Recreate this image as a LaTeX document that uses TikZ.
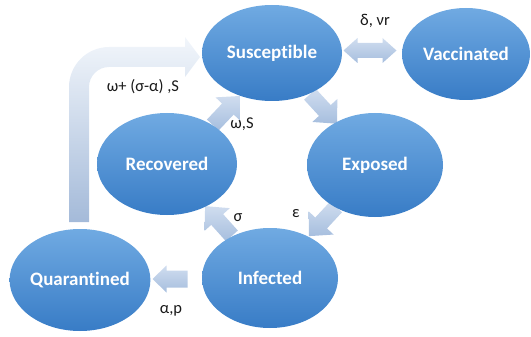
\documentclass[tikz,border=0pt]{standalone}
\usepackage{fontspec}
\setmainfont{Carlito}[Ligatures=NoCommon]
\usetikzlibrary{shapes.geometric,backgrounds,calc}
\definecolor{elTop}{RGB}{112,170,226}
\definecolor{elBot}{RGB}{56,124,198}
\definecolor{arTop}{RGB}{208,221,239}
\definecolor{arBot}{RGB}{166,190,222}
\definecolor{bigTop}{RGB}{242,246,251}
\definecolor{bigBot}{RGB}{164,186,217}
\definecolor{lbltxt}{RGB}{25,25,25}
\newcommand{\blockarr}[6]{%
  \begin{scope}[shift={#1},rotate=#2]
    \shade[smallarrow] ({-#3/2},{-#4}) -- ({#3/2-#6},{-#4}) -- ({#3/2-#6},{-#5}) -- ({#3/2},0) -- ({#3/2-#6},{#5}) -- ({#3/2-#6},{#4}) -- ({-#3/2},{#4}) -- cycle;
  \end{scope}}
\begin{document}
\begin{tikzpicture}[x=1pt,y=-1pt,
  state/.style={ellipse, inner sep=0pt, top color=elTop, bottom color=elBot, draw=none, text=white, font=\bfseries\fontsize{19}{22}\selectfont},
  lbl/.style={font=\fontsize{16.5}{18}\selectfont, text=lbltxt, inner sep=0pt},
  smallarrow/.style={top color=arTop, bottom color=arBot, draw=none},
  bigarrow/.style={top color=bigTop, bottom color=bigBot, draw=none}]
\useasboundingbox (0,0) rectangle (531,337);
\node[state, minimum width=140pt, minimum height=96pt] (S) at (272,53) {Susceptible};
\node[state, minimum width=128pt, minimum height=92pt] (V) at (466,54) {Vaccinated};
\node[state, minimum width=140pt, minimum height=102pt] (R) at (167,164) {Recovered};
\node[state, minimum width=136pt, minimum height=104pt] (E) at (375,165) {Exposed};
\node[state, minimum width=136pt, minimum height=100pt] (I) at (270,278) {Infected};
\node[state, minimum width=140pt, minimum height=102pt] (Q) at (80,280) {Quarantined};
\node[lbl] (l1) at (375,21) {δ, νr};
\node[lbl] (l2) at (143,87) {ω+ (σ-α) ,S};
\node[lbl] (l3) at (242,124) {ω,S};
\node[lbl] (l4) at (296,214) {ε};
\node[lbl] (l5) at (238,218) {σ};
\node[lbl] (l6) at (171,311) {α,p};
\begin{scope}[on background layer]
  \shade[bigarrow] (69,222) -- (69,87) .. controls (69,65) and (87,47) .. (109,47) -- (185,47) -- (185,37) -- (200,57) -- (185,77) -- (185,67) -- (109,67) .. controls (98,67) and (89,76) .. (89,87) -- (89,222) -- cycle;
  \blockarr{($(S)!0.5!(E)$)}{-47.4}{40}{8}{17}{18}
  \blockarr{($(E)!0.5!(I)$)}{-132.9}{40}{8}{17}{18}
  \blockarr{($(I)!0.5!(R)$)}{132}{40}{8}{17}{18}
  \blockarr{($(R)!0.5!(S)+(7,2)$)}{46.6}{40}{8}{17}{18}
  \blockarr{($(I)!0.5!(Q)+(-5,0)$)}{180}{35}{8.5}{13.5}{14}
  \begin{scope}[shift={($(S)!0.5!(V)+(1,-3)$)}]
    \shade[smallarrow] (-26.5,0) -- (-12.5,-12.5) -- (-12.5,-7.5) -- (12.5,-7.5) -- (12.5,-12.5) -- (26.5,0) -- (12.5,12.5) -- (12.5,7.5) -- (-12.5,7.5) -- (-12.5,12.5) -- cycle;
  \end{scope}
\end{scope}
\end{tikzpicture}
\end{document}
